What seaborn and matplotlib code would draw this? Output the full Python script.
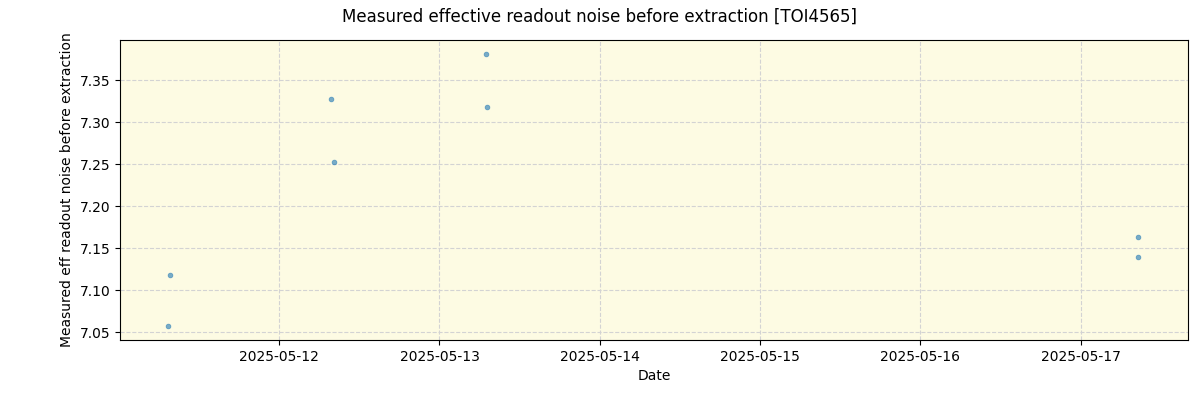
import matplotlib
matplotlib.use("Agg")
import matplotlib.pyplot as plt
import seaborn as sns
import pandas as pd
import matplotlib.dates as mdates

dates = ["2025-05-11 07:40", "2025-05-11 07:25", "2025-05-12 07:50", "2025-05-12 08:10",
         "2025-05-13 07:00", "2025-05-13 07:10", "2025-05-17 08:35", "2025-05-17 08:40"]
noise = [7.118, 7.057, 7.328, 7.253, 7.382, 7.318, 7.140, 7.163]

df = pd.DataFrame({"Date": pd.to_datetime(dates), "noise": noise})

fig, ax = plt.subplots(figsize=(12, 4), dpi=100)
ax.set_facecolor("#fdfbe3")
sns.scatterplot(data=df, x="Date", y="noise", ax=ax, s=12, color="tab:blue", alpha=0.6,
                edgecolor="tab:blue", linewidth=0.5)
ax.grid(True, linestyle="--", color="lightgray", linewidth=0.8)
ax.set_axisbelow(True)
ax.set_xlim(pd.Timestamp("2025-05-11 00:10"), pd.Timestamp("2025-05-17 16:05"))
ax.xaxis.set_major_locator(mdates.DayLocator())
ax.xaxis.set_major_formatter(mdates.DateFormatter("%Y-%m-%d"))
ax.set_xlabel("Date")
ax.set_ylabel("Measured eff readout noise before extraction")
fig.suptitle("Measured effective readout noise before extraction [TOI4565]")
fig.subplots_adjust(left=0.1, right=0.99, top=0.9, bottom=0.15)
fig.savefig("out.png")
